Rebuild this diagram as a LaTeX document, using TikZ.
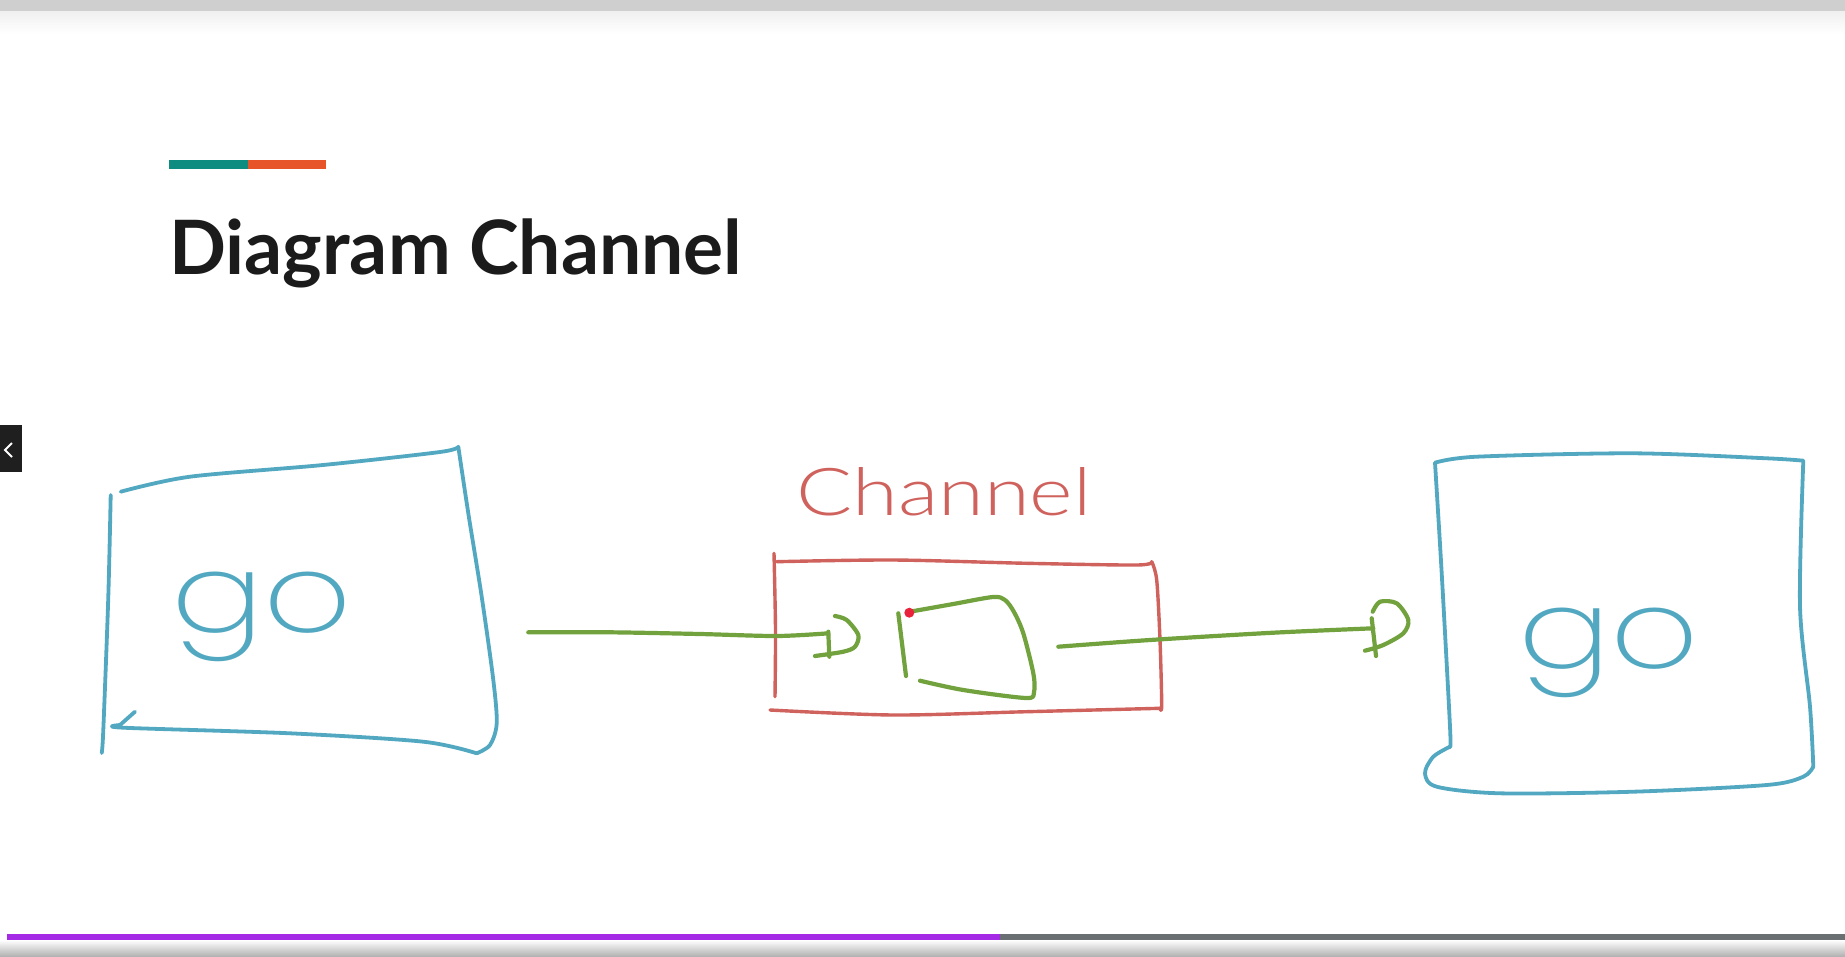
\documentclass[tikz,border=0pt]{standalone}
\usepackage{fontspec}
\setmainfont{Lato}
\newfontfamily\handfont{Lato Light}
\newfontfamily\gofont{Poppins ExtraLight}
\definecolor{inkcyan}{RGB}{82,168,193}
\definecolor{inkred}{RGB}{207,98,92}
\definecolor{inkgreen}{RGB}{114,162,62}
\definecolor{dotred}{RGB}{233,35,58}
\definecolor{accteal}{RGB}{14,140,127}
\definecolor{accorange}{RGB}{232,84,42}
\definecolor{barpurple}{RGB}{165,42,230}
\definecolor{bargray}{RGB}{106,111,113}
\definecolor{titleink}{RGB}{27,27,27}
\tikzset{
  cyanline/.style={inkcyan, line width=3.8pt, line cap=round, line join=round},
  redline/.style={inkred, line width=3.4pt, line cap=round, line join=round},
  greenline/.style={inkgreen, line width=4.2pt, line cap=round, line join=round},
  gotext/.style={inkcyan, inner sep=0pt, xscale=1.25, font=\gofont\fontsize{110}{110}\selectfont},
  chantext/.style={inkred, inner sep=0pt, xscale=1.26, font=\handfont\fontsize{66}{66}\selectfont},
}
\begin{document}
\begin{tikzpicture}[x=1pt,y=-1pt]
			\useasboundingbox (0,0) rectangle (1845,956);
			\fill[white] (0,0) rectangle (1845,956);
			%上の帯
			\fill[black!19] (0,0) rectangle (1845,11);
			\shade[top color=black!6, bottom color=white] (0,11) rectangle (1845,34);
			%下の帯
			\shade[top color=white, bottom color=black!30] (0,940) rectangle (1845,956);
			\fill[barpurple] (7,934) rectangle (1000,940);
			\fill[bargray] (1000,934) rectangle (1845,940);
			%左のタブ
			\fill[black!88] (0,425) rectangle (22,472);
			\draw[white, line width=1.8pt] (12,443) -- (5,450) -- (12,457);
			%見出し
			\fill[accteal] (169,160) rectangle (248,169);
			\fill[accorange] (248,160) rectangle (326,169);
			\node[anchor=base west, inner sep=0pt, text=titleink, font=\bfseries\fontsize{75}{75}\selectfont] (title) at (169,274) {Diagram Channel};
			%左の箱
			\draw[cyanline] plot[smooth] coordinates {(120.7,491.7) (190,476.7) (323,465) (440,452) (458.3,446.7)};
			\draw[cyanline] plot[smooth] coordinates {(458.3,446.7) (468.3,513.3) (481.7,596.7) (493.3,680) (496.7,723.3) (490,745) (476.7,753.3)};
			\draw[cyanline] plot[smooth] coordinates {(110.7,495) (108.3,596.7) (103.3,730) (101.7,753)};
			\draw[cyanline] (135,711.7) -- (120,725) plot[smooth] coordinates {(120,725) (123.3,727.7) (290,733.3) (423.3,741.7) (476.7,753.3)};
			\node[gotext, anchor=base] (goleft) at (262,632) {go};
			%チャネル
			\draw[redline] plot[smooth] coordinates {(774,553.3) (775.5,630) (775,696.7)};
			\draw[redline] plot[smooth] coordinates {(776.7,561.7) (893.3,560) (1026.7,563.3) (1136.7,565) (1151.7,561.7)};
			\draw[redline] plot[smooth] coordinates {(1151.7,561.7) (1156.7,580) (1160,640) (1161.7,705) (1160,708.3)};
			\draw[redline] plot[smooth] coordinates {(770,710) (893.3,715) (1026.7,711.7) (1160,708.3)};
			\node[chantext, anchor=base west] (chanlabel) at (796,515) {Channel};
			%中身
			\draw[greenline] (898.3,613.3) -- (906,676);
			\draw[greenline] plot[smooth, tension=0.5] coordinates {(910,611.7) (953.3,604) (993,597) (1005,600) (1014,612) (1023.3,633.3) (1033.3,673.3) (1034,692) (1026,698) (963.3,690) (920,680.7)};
			\fill[dotred] (909.3,612.7) circle [radius=5pt];
			%矢印
			\coordinate (A1) at (528.3,632.3);
			\coordinate (A2) at (828.3,633.3);
			\coordinate (B1) at (1058.3,646.7);
			\coordinate (B2) at (1373.3,628.3);
			\draw[greenline] plot[smooth] coordinates {(A1) (610,632.3) (700,634) (776.7,636) (A2)};
			\draw[greenline] (828.3,631.7) -- (829.3,656.7);
			\draw[greenline] plot[smooth] coordinates {(835,616) (846.7,620) (858.3,635) (855,646.7) (843.3,651.7) (815,656)};
			\draw[greenline] plot[smooth] coordinates {(B1) (1150,640) (1273.3,632.7) (B2)};
			\draw[greenline] (1371.7,618.3) -- (1376,656);
			\draw[greenline] plot[smooth] coordinates {(1372.7,611.7) (1380,601.7) (1396.7,603.3) (1408.3,620) (1403.3,633.3) (1383.3,645) (1365,650.7)};
			%右の箱
			\draw[cyanline] plot[smooth] coordinates {(1435,462.7) (1476.7,456.7) (1633.3,453.3) (1766.7,458.3) (1803.3,460.7)};
			\draw[cyanline] plot[smooth] coordinates {(1435,462.7) (1441.7,573.3) (1450,726.7) (1450,746.7)};
			\draw[cyanline] plot[smooth] coordinates {(1450,746.7) (1433.3,756.7) (1425,773.3) (1436.7,786.7) (1500,793.3) (1633.3,791.7) (1766.7,785) (1803.3,776.7) (1813.3,766.7)};
			\draw[cyanline] plot[smooth] coordinates {(1803.3,460.7) (1800,606.7) (1810,706.7) (1813.3,766.7)};
			\node[gotext, anchor=base] (goright) at (1609,668) {go};
\end{tikzpicture}
\end{document}
